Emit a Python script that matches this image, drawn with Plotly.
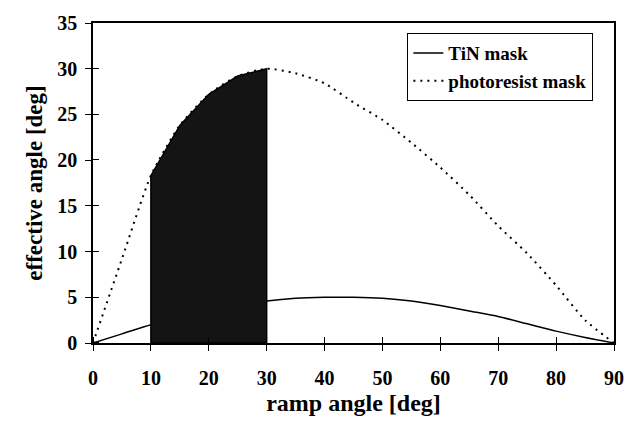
import plotly.graph_objects as go

ramp_angle = [0, 5, 10, 15, 20, 25, 30, 35, 40, 45, 50, 55, 60, 65, 70, 75, 80, 85, 90]
tin_mask = [0, 1.0, 2.0, 2.8, 3.5, 4.1, 4.6, 4.9, 5.0, 5.0, 4.9, 4.6, 4.1, 3.5, 2.9, 2.1, 1.3, 0.6, 0]
photoresist_mask = [0, 9.2, 18.3, 23.8, 27.2, 29.2, 30.0, 29.5, 28.4, 26.3, 24.4, 21.9, 19.2, 16.2, 12.8, 9.8, 6.3, 2.5, 0]
shade_from, shade_to = 10, 30

x_ticks = [0, 10, 20, 30, 40, 50, 60, 70, 80, 90]
y_ticks = [0, 5, 10, 15, 20, 25, 30, 35]
series_names = ["TiN mask", "photoresist mask"]

FONT = "Liberation Serif"
tickfont = dict(family=FONT, size=20, color="black")

def b(s):
    return "<b>%s</b>" % s

fig = go.Figure()
fig.add_trace(go.Scatter(x=ramp_angle, y=tin_mask, mode="lines", name=b(series_names[0]),
                         line=dict(color="black", width=1.5, shape="spline", smoothing=0.6)))
fig.add_trace(go.Scatter(x=ramp_angle, y=photoresist_mask, mode="lines", name=b(series_names[1]),
                         line=dict(color="black", width=2, dash="2px,5px", shape="spline", smoothing=0.6)))

sx = [a for a in ramp_angle if shade_from <= a <= shade_to]
sy = [v for a, v in zip(ramp_angle, photoresist_mask) if shade_from <= a <= shade_to]
fig.add_trace(go.Scatter(x=[sx[0]] + sx + [sx[-1], sx[0]], y=[0] + sy + [0, 0], mode="lines", fill="toself",
                         fillcolor="#141414", line=dict(color="black", width=1.5),
                         showlegend=False, hoverinfo="skip"))

def axis(vals, title, size, standoff, labelstand):
    return dict(showline=True, linecolor="black", linewidth=1.5, mirror=True,
                showgrid=False, zeroline=False, ticks="outside", ticklen=6,
                tickcolor="black", tickwidth=1.2, tickfont=tickfont,
                tickvals=vals, ticktext=[b(v) for v in vals], ticklabelstandoff=labelstand,
                minor=dict(tickvals=[v + 0.02 for v in vals], ticks="inside", ticklen=6,
                           tickcolor="black", tickwidth=1.2, showgrid=False),
                title=dict(text=b(title), font=dict(family=FONT, size=size, color="black"),
                           standoff=standoff))

fig.update_layout(
    width=636, height=426,
    margin=dict(l=93, r=14, t=22, b=83),
    paper_bgcolor="white", plot_bgcolor="white",
    font=dict(family=FONT, color="black", size=18),
    showlegend=True,
    legend=dict(x=0.603, y=0.969, xanchor="left", yanchor="top",
                bordercolor="black", borderwidth=1.2, bgcolor="white",
                font=dict(family=FONT, size=19, color="black"),
                tracegroupgap=0, itemwidth=30),
    xaxis=dict(range=[0, 90], **axis(x_ticks, "ramp angle [deg]", 24, 6, 10)),
    yaxis=dict(range=[0, 35], **axis(y_ticks, "effective angle [deg]", 23, 8, 4)),
)

fig.write_html("out.html")
